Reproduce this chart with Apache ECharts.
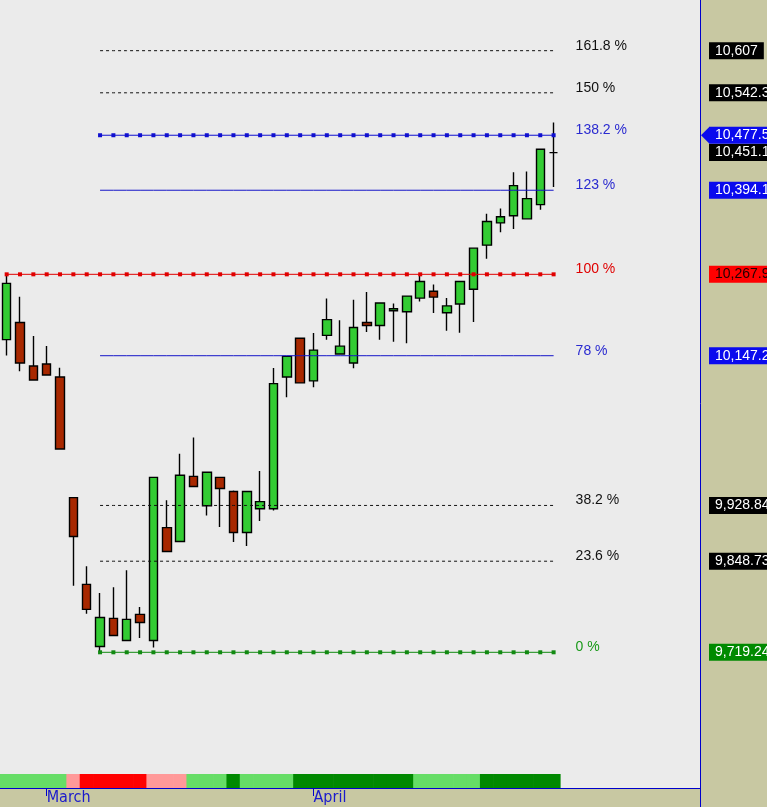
<!DOCTYPE html>
<html><head><meta charset="utf-8">
<script src="https://cdn.jsdelivr.net/npm/echarts@6/dist/echarts.min.js"></script>
<style>html,body{margin:0;padding:0;background:#ebebeb;}#c{width:767px;height:807px;}</style>
</head><body><div id="c"></div>
<script>
// OHLC per day: [open, close, low, high]
const candles = [
 [10170.9, 10254.4, 10147.6, 10267.9],
 [10196.2, 10136.5, 10124.2, 10234.4],
 [10132.1, 10111.5, 10110.5, 10176.3],
 [10135.0, 10118.9, 10118.9, 10161.7],
 [10115.9, 10010.5, 10010.5, 10129.6],
 [9940.1, 9884.1, 9813.6, 9940.1],
 [9815.6, 9780.0, 9773.7, 9841.6],
 [9727.4, 9768.6, 9719.24, 9803.2],
 [9767.2, 9743.0, 9743.0, 9811.7],
 [9735.9, 9765.8, 9735.9, 9835.9],
 [9772.9, 9761.5, 9739.6, 9783.3],
 [9735.9, 9969.4, 9725.9, 9969.4],
 [9896.9, 9862.6, 9862.6, 9936.2],
 [9876.9, 9972.4, 9875.9, 10003.6],
 [9970.9, 9956.2, 9956.2, 10027.5],
 [9928.4, 9976.8, 9914.5, 9976.8],
 [9969.4, 9953.3, 9897.8, 9969.4],
 [9948.9, 9889.8, 9876.3, 9950.4],
 [9889.8, 9948.9, 9870.6, 9948.9],
 [9924.1, 9934.3, 9906.4, 9978.7],
 [9924.1, 10106.2, 9921.7, 10129.2],
 [10115.9, 10146.2, 10086.1, 10146.2],
 [10172.9, 10107.2, 10107.2, 10172.9],
 [10110.1, 10155.5, 10100.7, 10180.6],
 [10177.3, 10200.6, 10170.9, 10232.0],
 [10149.7, 10161.3, 10149.7, 10199.5],
 [10136.5, 10188.9, 10128.6, 10230.1],
 [10196.2, 10191.8, 10182.1, 10241.7],
 [10191.8, 10225.3, 10170.9, 10225.3],
 [10213.6, 10216.6, 10167.9, 10224.3],
 [10212.2, 10235.5, 10165.7, 10235.5],
 [10232.5, 10257.3, 10227.6, 10266.4],
 [10242.7, 10234.0, 10210.2, 10252.6],
 [10210.7, 10220.9, 10184.0, 10232.5],
 [10223.8, 10257.3, 10181.1, 10257.3],
 [10245.6, 10307.0, 10197.1, 10307.0],
 [10311.5, 10346.9, 10291.2, 10358.6],
 [10344.9, 10354.1, 10330.7, 10366.7],
 [10355.6, 10401.1, 10335.8, 10421.3],
 [10351.0, 10381.5, 10351.0, 10422.4],
 [10372.4, 10456.2, 10364.7, 10456.2],
 [10451.1, 10451.1, 10399.0, 10496.9]
];
// colour state of the indicator strip, one per day
const bandStates = ['lg','lg','lg','lg','lg','pk','rd','rd','rd','rd','rd','pk','pk','pk','lg','lg','lg','dg',
 'lg','lg','lg','lg','dg','dg','dg','dg','dg','dg','dg','dg','dg','lg','lg','lg','lg','lg','dg','dg','dg','dg','dg','dg'];
// Fibonacci levels
const fibPct = [161.8, 150, 138.2, 123, 100, 78, 38.2, 23.6, 0];
const fibVal = [10607, 10542.3, 10477.5, 10394.1, 10267.9, 10147.2, 9928.84, 9848.73, 9719.24];
const fibStart = [7, 7, 7, 7, 0, 7, 7, 7, 7];
const fibKind = ['dash','dash','blueDot','blue','redDot','blue','dash','dash','greenDot'];
// right-hand price tags
const priceTags = [10607, 10542.3, 10477.5, 10451.1, 10394.1, 10267.9, 10147.2, 9928.84, 9848.73, 9719.24];
const priceTagKind = ['blk','blk','blu','blk','blu','red','blu','blk','blk','grn'];
const pointerTag = 10477.5;
// month markers (day index -> label)
const monthTicks = {3: 'March', 23: 'April'};
const totalSlots = 52;

const FONT = "'Liberation Sans', Arial, sans-serif";
const cats = Array.from({length: totalSlots}, (_, i) => String(i));
const bandColors = {lg: '#66dd66', pk: '#ff9999', rd: '#ff0000', dg: '#008800'};
const kindStyle = {
  dash: {line: '#111', text: '#111', type: [3, 3], dots: false},
  blue: {line: '#1515c8', text: '#2a2ad0', type: 'solid', dots: false},
  blueDot: {line: '#1010d0', text: '#2a2ad0', type: 'solid', dots: true},
  redDot: {line: '#e00000', text: '#e00000', type: 'solid', dots: true},
  greenDot: {line: '#128a12', text: '#1a9a1a', type: 'solid', dots: true}
};
const tagStyle = {
  blk: {bg: '#000000', fg: '#ffffff'},
  blu: {bg: '#0a0aee', fg: '#ffffff'},
  red: {bg: '#ff0000', fg: '#220000'},
  grn: {bg: '#008a00', fg: '#ffffff'}
};
const fmt = v => v.toLocaleString('en-US', {maximumFractionDigits: 2});

const series = [];
series.push({
  type: 'candlestick', xAxisIndex: 0, yAxisIndex: 0, data: candles, barWidth: 9, clip: false, silent: true,
  itemStyle: {color: '#33cc33', color0: '#a82800', borderColor: '#000', borderColor0: '#000', borderColorDoji: '#000', borderWidth: 1.4},
  markPoint: {
    silent: true, animation: false,
    data: priceTags.map((v, k) => ({
      coord: [totalSlots - 1, v], value: v, symbol: 'rect', symbolSize: 1,
      itemStyle: {color: 'rgba(0,0,0,0)'},
      label: {show: true, position: 'right', distance: 21.5, formatter: fmt(v),
        backgroundColor: tagStyle[priceTagKind[k]].bg, color: tagStyle[priceTagKind[k]].fg,
        padding: [2, 6, 1, 6], fontSize: 14, lineHeight: 14, fontFamily: FONT}
    })).concat([{
      coord: [totalSlots - 1, pointerTag], symbol: 'triangle', symbolRotate: 90, symbolSize: [16, 8],
      symbolOffset: [18, 0], itemStyle: {color: '#0a0aee'}, label: {show: false}
    }])
  }
});
fibPct.forEach((p, k) => {
  const st = kindStyle[fibKind[k]];
  series.push({
    type: 'line', xAxisIndex: 0, yAxisIndex: 0, silent: true, z: 4,
    data: candles.map((_, i) => i >= fibStart[k] ? fibVal[k] : null),
    symbol: st.dots ? 'rect' : 'none', symbolSize: 4, showSymbol: st.dots, showAllSymbol: true,
    lineStyle: {color: st.line, width: 1, type: st.type}, itemStyle: {color: st.line},
    endLabel: {show: true, formatter: p + ' %', color: st.text, fontSize: 14, fontFamily: FONT, distance: 22, offset: [0, -5]}
  });
});
series.push({
  type: 'bar', xAxisIndex: 1, yAxisIndex: 1, silent: true, barWidth: 14, barGap: '-100%',
  data: bandStates.map(s => ({value: 1, itemStyle: {color: bandColors[s]}}))
});

const chart = echarts.init(document.getElementById('c'), null, {renderer: 'canvas'});
chart.setOption({
  animation: false,
  backgroundColor: '#ebebeb',
  graphic: [
    {type: 'rect', z: -10, silent: true, shape: {x: 700, y: 0, width: 67, height: 807}, style: {fill: '#c8c8a2'}},
    {type: 'rect', z: -10, silent: true, shape: {x: 0, y: 788, width: 700, height: 19}, style: {fill: '#c8c8a2'}},
    {type: 'line', z: -9, silent: true, shape: {x1: 700.5, y1: 0, x2: 700.5, y2: 807}, style: {stroke: '#0000cc', lineWidth: 1}},
    {type: 'line', z: -9, silent: true, shape: {x1: 0, y1: 788.5, x2: 700, y2: 788.5}, style: {stroke: '#0000cc', lineWidth: 1}}
  ],
  grid: [
    {left: 0, top: 0, width: 13.34 * totalSlots, height: 774},
    {left: 0, top: 774, width: 13.34 * totalSlots, height: 14}
  ],
  xAxis: [
    {gridIndex: 0, type: 'category', data: cats, show: false, boundaryGap: true},
    {gridIndex: 1, type: 'category', data: cats, boundaryGap: true,
      axisLine: {show: true, lineStyle: {color: '#0000cc', width: 1}},
      axisTick: {show: true, alignWithLabel: true, length: 8, interval: (i) => (i in monthTicks), lineStyle: {color: '#0000cc'}},
      axisLabel: {show: true, interval: (i) => (i in monthTicks), formatter: (v, i) => monthTicks[i] || '',
        align: 'left', margin: 2, color: '#1a1acc', fontSize: 16, fontFamily: "'Liberation Sans Narrow', 'DejaVu Sans Condensed', sans-serif"}}
  ],
  yAxis: [
    {gridIndex: 0, type: 'log', logBase: 10, min: 9548.9, max: 10685.4, show: false},
    {gridIndex: 1, type: 'value', min: 0, max: 1, show: false}
  ],
  series: series
});
</script></body></html>
